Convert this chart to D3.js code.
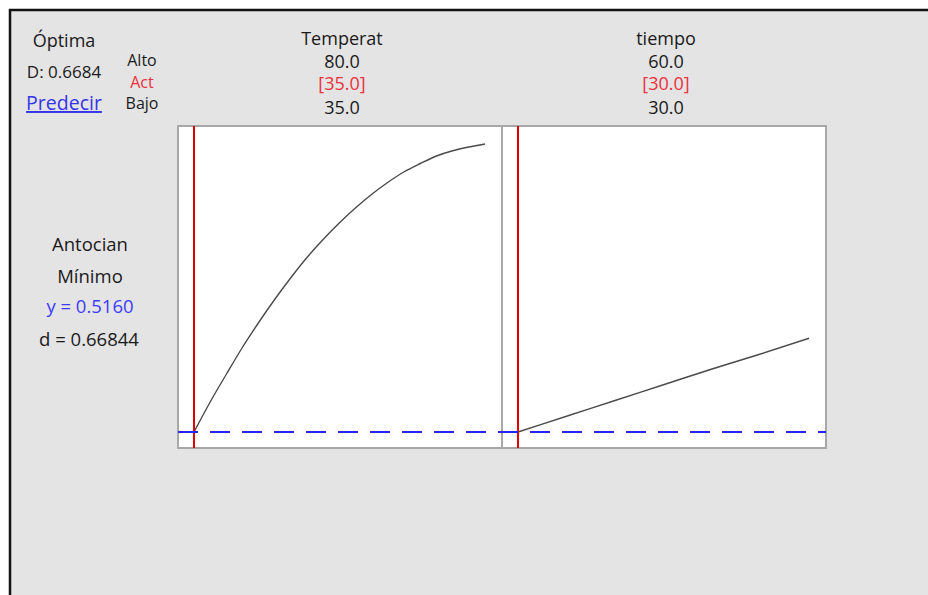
<!DOCTYPE html>
<html>
<head>
<meta charset="utf-8">
<script src="https://cdn.jsdelivr.net/npm/d3@7"></script>
<style>
  body { margin: 0; background: #fff; }
  svg text { font-family: "Open Sans", "Noto Sans", sans-serif; font-size: 18px; fill: #1a1a1a; }
</style>
</head>
<body>
<svg id="chart" width="928" height="595"></svg>
<script>
// factores y su configuración
const factors = ["Temperat", "tiempo"];
const highValues = [80.0, 60.0];
const currentValues = [35.0, 30.0];
const lowValues = [35.0, 30.0];

// curvas de respuesta (Antocian)
const tempX = [35, 37.5, 40, 42.5, 45, 47.5, 50, 52.5, 55, 57.5, 60, 62.5, 65, 67.5, 70, 72.5, 75, 77.5, 80];
const tempY = [0.516, 0.556, 0.593, 0.629, 0.662, 0.693, 0.722, 0.749, 0.773, 0.795, 0.815, 0.833, 0.849, 0.863, 0.874, 0.884, 0.891, 0.896, 0.900];
const timeX = [30, 35, 40, 45, 50, 55, 60];
const timeY = [0.516, 0.537, 0.558, 0.579, 0.600, 0.620, 0.641];

const response = "Antocian";
const goal = "Mínimo";
const yPred = 0.5160;
const dIndiv = 0.66844;
const dComposite = 0.6684;

const svg = d3.select("#chart");

// fondo y marco
svg.append("rect").attr("x", 10).attr("y", 10).attr("width", 930).attr("height", 600)
    .attr("fill", "#e4e4e4").attr("stroke", "#111").attr("stroke-width", 2.5);

const panelTop = 126, panelBottom = 448, panelLeft = 178, panelW = 324;
const yScale = d3.scaleLinear().domain([0.516, 0.900]).range([432, 144]);

const curves = [
    {x: tempX, y: tempY},
    {x: timeX, y: timeY}
];

factors.forEach((name, i) => {
    const x0 = panelLeft + i * panelW;
    const xScale = d3.scaleLinear().domain([lowValues[i], highValues[i]]).range([x0 + 16, x0 + panelW - 17]);

    svg.append("rect")
        .attr("x", x0).attr("y", panelTop)
        .attr("width", panelW).attr("height", panelBottom - panelTop)
        .attr("fill", "#fff").attr("stroke", "#a8a8a8").attr("stroke-width", 2);

    const cx = x0 + panelW / 2 + 2;
    svg.append("text").attr("x", cx).attr("y", 45).attr("text-anchor", "middle").text(name);
    svg.append("text").attr("x", cx).attr("y", 68).attr("text-anchor", "middle").text(highValues[i].toFixed(1));
    svg.append("text").attr("x", cx).attr("y", 90).attr("text-anchor", "middle")
        .style("fill", "#e8323c").text(`[${currentValues[i].toFixed(1)}]`);
    svg.append("text").attr("x", cx).attr("y", 114).attr("text-anchor", "middle").text(lowValues[i].toFixed(1));

    const line = d3.line().x(d => xScale(d[0])).y(d => yScale(d[1])).curve(d3.curveMonotoneX);
    svg.append("path")
        .datum(d3.zip(curves[i].x, curves[i].y))
        .attr("d", line)
        .attr("fill", "none").attr("stroke", "#4a4a4a").attr("stroke-width", 1.4);

    svg.append("line")
        .attr("x1", xScale(currentValues[i])).attr("x2", xScale(currentValues[i]))
        .attr("y1", panelTop).attr("y2", panelBottom)
        .attr("stroke", "#e00000").attr("stroke-width", 2);
});

// línea de predicción
svg.append("line")
    .attr("x1", panelLeft).attr("x2", panelLeft + 2 * panelW)
    .attr("y1", yScale(yPred)).attr("y2", yScale(yPred))
    .attr("stroke", "#2424ff").attr("stroke-width", 2)
    .attr("stroke-dasharray", "20,12");

// textos de la izquierda
svg.append("text").attr("x", 64).attr("y", 47).attr("text-anchor", "middle").text("Óptima");
svg.append("text").attr("x", 64).attr("y", 78).attr("text-anchor", "middle").style("font-size", "17px")
    .text(`D: ${dComposite.toFixed(4)}`);
svg.append("text").attr("x", 64).attr("y", 110).attr("text-anchor", "middle")
    .style("font-size", "19.5px").style("fill", "#3434e8").style("text-decoration", "underline").text("Predecir");

const levelLabels = [["Alto", 66, "#1a1a1a"], ["Act", 87.5, "#e8323c"], ["Bajo", 109, "#1a1a1a"]];
levelLabels.forEach(([t, y, c]) => {
    svg.append("text").attr("x", 142).attr("y", y).attr("text-anchor", "middle")
        .style("font-size", "16px").style("fill", c).text(t);
});

svg.append("text").attr("x", 90).attr("y", 251).attr("text-anchor", "middle").style("font-size", "18.5px").text(response);
svg.append("text").attr("x", 90).attr("y", 283).attr("text-anchor", "middle").style("font-size", "18.5px").text(goal);
svg.append("text").attr("x", 90).attr("y", 313).attr("text-anchor", "middle").style("font-size", "18.5px")
    .style("fill", "#3c3cff").text(`y = ${yPred.toFixed(4)}`);
svg.append("text").attr("x", 89).attr("y", 346).attr("text-anchor", "middle").style("font-size", "18.5px")
    .text(`d = ${dIndiv.toFixed(5)}`);
</script>
</body>
</html>
